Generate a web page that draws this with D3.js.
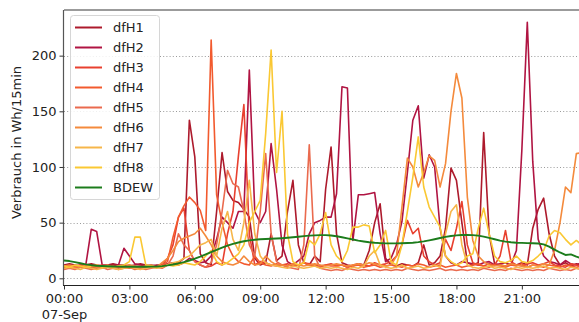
<!DOCTYPE html>
<html>
<head>
<meta charset="utf-8">
<script src="https://cdn.jsdelivr.net/npm/d3@7"></script>
<style>
  html, body { margin: 0; padding: 0; background: #fff; }
  svg { display: block; font-family: "DejaVu Sans", sans-serif; }
</style>
</head>
<body>
<svg id="chart" width="579" height="322"></svg>
<script>
// 15-minute consumption per household, 07 Sep (96 intervals)
const dfH1 = [12,13,12,11,12,13,12,11,12,13,
  12,12,11,12,13,12,11,12,12,13,
  14,14,18,142,109,22,14,12,60,113,
  78,70,68,62,55,18,12,14,40,16,
  20,60,88,30,14,12,20,15,80,118,
  40,14,12,11,13,12,25,50,67,18,
  12,11,13,12,11,14,30,12,14,20,
  45,99,88,50,14,12,14,131,40,13,
  12,11,13,12,14,12,45,62,72,40,
  20,12,14,11,13,12];
const dfH2 = [11,12,11,12,12,44,42,12,12,11,
  12,27,20,13,12,11,12,11,12,12,
  13,12,14,18,16,14,15,20,35,55,
  50,45,60,60,187,60,50,60,121,80,
  30,15,12,16,20,40,50,52,55,55,
  76,172,171,34,75,75,76,77,40,15,
  18,30,51,95,142,155,90,111,100,45,
  20,14,12,15,14,13,12,14,15,12,
  13,14,12,25,115,230,105,35,20,15,
  14,12,16,13,12,14];
const dfH3 = [10,11,10,12,11,10,11,12,10,11,
  10,11,12,10,11,10,11,10,12,18,
  30,55,63,25,15,12,10,11,14,12,
  40,60,110,156,40,12,15,14,12,11,
  12,13,11,12,14,13,12,11,12,13,
  11,12,10,12,13,12,11,14,12,13,
  15,20,30,52,40,45,20,15,12,14,
  35,25,45,69,30,14,12,11,13,12,
  20,43,15,12,11,13,14,12,13,15,
  12,11,10,13,12,11];
const dfH4 = [9,10,9,11,10,9,10,9,10,11,
  9,10,9,10,9,10,11,10,12,15,
  37,55,65,73,68,61,43,214,75,50,
  30,20,15,13,12,20,14,12,11,13,
  12,11,13,12,14,12,11,10,12,11,
  11,12,10,11,12,10,11,12,10,11,
  12,11,10,12,11,13,12,10,11,12,
  10,11,12,10,11,12,13,11,10,12,
  11,10,12,11,13,10,12,11,10,12,
  11,10,12,11,10,11];
const dfH5 = [8,9,8,10,9,8,9,10,8,9,
  8,9,10,8,9,8,9,10,9,12,
  20,40,30,25,15,12,10,14,30,60,
  97,85,82,60,30,20,60,112,40,15,
  12,10,9,8,30,120,20,9,8,7,
  8,7,9,8,7,8,7,8,7,8,
  7,8,7,9,8,7,8,7,8,9,
  7,8,7,8,7,8,7,9,8,7,
  8,7,9,8,7,8,7,8,7,9,
  8,7,8,7,9,8];
const dfH6 = [11,12,11,10,12,11,10,11,12,10,
  11,10,12,11,10,11,12,10,14,18,
  25,33,36,38,40,45,38,30,20,15,
  13,12,14,20,15,12,13,20,15,12,
  12,11,13,12,11,12,13,12,11,12,
  13,12,11,12,13,12,14,13,12,11,
  12,20,64,108,100,82,95,110,106,82,
  103,150,184,162,73,34,20,15,12,11,
  12,11,13,12,11,10,12,11,13,12,
  25,50,82,77,112,113];
const dfH7 = [9,10,9,8,10,9,8,9,10,9,
  8,9,10,9,8,9,10,9,10,12,
  14,15,18,20,25,30,32,35,20,45,
  60,35,25,50,88,40,20,14,12,11,
  10,9,11,10,9,10,11,9,10,9,
  10,9,8,10,9,11,20,25,12,10,
  9,10,12,9,10,11,9,10,12,10,
  40,60,66,30,12,10,9,10,11,9,
  10,9,8,10,9,10,9,10,11,9,
  10,9,8,10,9,8];
const dfH8 = [11,10,12,11,10,11,12,10,11,10,
  11,12,15,37,37,12,11,10,11,12,
  11,12,14,13,12,15,20,25,15,12,
  14,18,22,30,50,60,70,130,205,95,
  150,40,15,12,14,34,30,40,59,30,
  20,15,25,46,46,48,47,23,30,43,
  15,12,30,60,91,127,82,64,55,46,
  20,15,12,14,20,22,45,63,40,20,
  15,14,16,20,15,14,16,20,25,38,
  43,41,35,30,34,30];
// BDEW standard load profile, same intervals
const bdew = [16,15.5,14.5,13.5,12.5,11.8,11.3,11,10.8,10.6,
  10.5,10.4,10.4,10.4,10.4,10.4,10.5,10.6,11,11.6,
  12.4,13.4,14.6,16,17.6,19.4,21.4,23.5,25.5,27.5,
  29.3,30.9,32.2,33.3,34.1,34.7,35.1,35.3,35.5,35.7,
  36,36.4,36.9,37.4,37.9,38.3,38.6,38.8,38.8,38.5,
  37.8,36.9,35.9,34.9,33.9,33.1,32.4,31.9,31.6,31.4,
  31.4,31.4,31.5,31.7,32,32.5,33.2,34.1,35.1,36.2,
  37.2,38,38.6,38.9,39,38.8,38.3,37.4,36.3,35.1,
  33.9,33,32.4,32,31.8,31.6,31.5,31.3,30.5,28.5,
  25.8,23.2,21,21.5,19.5,18];

const seriesNames = ["dfH1","dfH2","dfH3","dfH4","dfH5","dfH6","dfH7","dfH8","BDEW"];
const seriesValues = [dfH1, dfH2, dfH3, dfH4, dfH5, dfH6, dfH7, dfH8, bdew];
const seriesColors = ["#ad1a2c","#b01442","#e8402f","#f25a2e","#ea6a4e","#f48a3c","#f6b64a","#fac833","#1c7c1c"];

const yTicks = [0, 50, 100, 150, 200];
const xTickLabels = ["00:00","03:00","06:00","09:00","12:00","15:00","18:00","21:00"];
const dayLabel = "07-Sep";
const yTitle = "Verbrauch in Wh/15min";

const start = new Date(2021, 8, 7, 0, 0);
const times = dfH1.map((_, i) => d3.timeMinute.offset(start, 15 * i));
const tickTimes = xTickLabels.map(s => {
  const [h, m] = s.split(":").map(Number);
  return d3.timeMinute.offset(start, h * 60 + m);
});

const svg = d3.select("#chart");
const plotLeft = 64, plotRight = 581.8, plotTop = 10, plotBottom = 285;

const x = d3.scaleTime().domain([times[0], times[times.length - 1]]).range([plotLeft, plotRight]);
const y = d3.scaleLinear().domain([-6, 241]).range([plotBottom, plotTop]);

// dotted horizontal grid
svg.append("g").selectAll("line").data(yTicks).join("line")
  .attr("x1", plotLeft).attr("x2", 579)
  .attr("y1", d => Math.round(y(d)) + 0.5).attr("y2", d => Math.round(y(d)) + 0.5)
  .attr("stroke", "#9a9a9a").attr("stroke-width", 1)
  .attr("stroke-dasharray", "1,2.2");

// series lines
const line = d3.line().x((d, i) => x(times[i])).y(d => y(d));
svg.append("g").selectAll("path").data(seriesValues).join("path")
  .attr("d", d => line(d))
  .attr("fill", "none")
  .attr("stroke", (d, i) => seriesColors[i])
  .attr("stroke-width", (d, i) => i === 8 ? 1.9 : 1.6)
  .attr("stroke-linejoin", "round");

// spines
svg.append("line").attr("x1", plotLeft).attr("x2", 579).attr("y1", plotTop).attr("y2", plotTop)
  .attr("stroke", "#7a7a7a").attr("stroke-width", 1.6);
svg.append("line").attr("x1", plotLeft - 0.5).attr("x2", plotLeft - 0.5).attr("y1", plotTop).attr("y2", plotBottom)
  .attr("stroke", "#555").attr("stroke-width", 1.2);
svg.append("line").attr("x1", plotLeft - 1).attr("x2", 579).attr("y1", plotBottom + 0.5).attr("y2", plotBottom + 0.5)
  .attr("stroke", "#222").attr("stroke-width", 1.2);

// y axis
const yAxis = d3.axisLeft(y).tickValues(yTicks).tickSize(4).tickPadding(3);
const gy = svg.append("g").attr("transform", `translate(${plotLeft - 0.5},0)`).call(yAxis);
gy.select(".domain").remove();
gy.selectAll("line").attr("stroke", "#333");
gy.selectAll("text").attr("font-size", 13).attr("fill", "#222")
  .attr("font-family", "DejaVu Sans, sans-serif");

// x axis
const xAxis = d3.axisBottom(x).tickValues(tickTimes)
  .tickFormat((d, i) => xTickLabels[i]).tickSize(4).tickPadding(4);
const gx = svg.append("g").attr("transform", `translate(0,${plotBottom + 0.5})`).call(xAxis);
gx.select(".domain").remove();
gx.selectAll("line").attr("stroke", "#333");
gx.selectAll("text").attr("font-size", 13).attr("fill", "#222")
  .attr("font-family", "DejaVu Sans, sans-serif");
gx.selectAll(".tick").filter((d, i) => i === 0).select("text")
  .append("tspan").attr("x", 0).attr("dy", "1.25em").text(dayLabel);

// y title
svg.append("text")
  .attr("transform", `translate(21,${(plotTop + plotBottom) / 2 - 5}) rotate(-90)`)
  .attr("text-anchor", "middle").attr("font-size", 13).attr("fill", "#222")
  .text(yTitle);

// legend
const lg = svg.append("g");
lg.append("rect").attr("x", 70.5).attr("y", 15.5).attr("width", 89).attr("height", 184)
  .attr("rx", 3).attr("fill", "#fff").attr("fill-opacity", 0.85)
  .attr("stroke", "#d6d6d6").attr("stroke-width", 1);
const items = lg.selectAll("g.item").data(seriesNames).join("g")
  .attr("transform", (d, i) => `translate(0,${27.5 + i * 20})`);
items.append("line").attr("x1", 75).attr("x2", 102).attr("y1", 0).attr("y2", 0)
  .attr("stroke", (d, i) => seriesColors[i]).attr("stroke-width", 2);
items.append("text").attr("x", 113).attr("y", 0).attr("dy", "0.36em")
  .attr("font-size", 13).attr("fill", "#222").text(d => d);
</script>
</body>
</html>
